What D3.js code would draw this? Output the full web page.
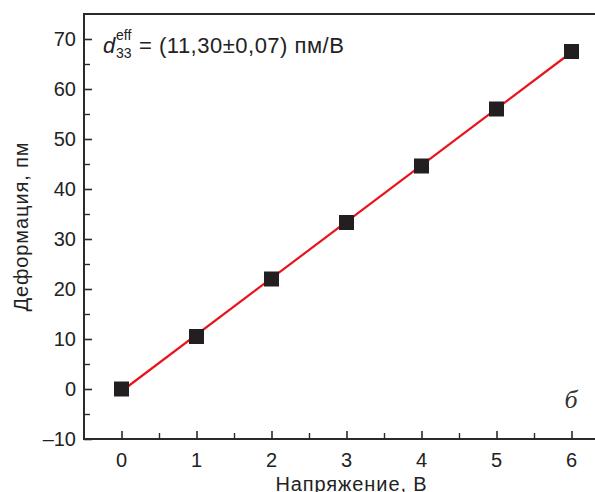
<!DOCTYPE html>
<html>
<head>
<meta charset="utf-8">
<script src="https://cdn.jsdelivr.net/npm/d3@7"></script>
<style>
  html, body { margin: 0; padding: 0; background: #fff; overflow: hidden; }
  svg { display: block; font-family: "Liberation Sans", Arial, sans-serif; }
</style>
</head>
<body>
<div id="chart"></div>
<script>
// Data
const voltage = [0, 1, 2, 3, 4, 5, 6];
const deformation = [0, 10.5, 22.0, 33.3, 44.6, 56.0, 67.5];
const fitSlope = 11.3;
const fitIntercept = -0.45;
const xTicks = [0, 1, 2, 3, 4, 5, 6];
const yTicks = [-10, 0, 10, 20, 30, 40, 50, 60, 70];

const W = 595, H = 492;
const margin = { top: 14, left: 84, bottom: 53 };
const plotRight = 609; // frame runs past the cropped right edge

const svg = d3.select('#chart').append('svg')
    .attr('width', W)
    .attr('height', H);

const x = d3.scaleLinear().domain([-0.5, 6.5]).range([margin.left, plotRight]);
const y = d3.scaleLinear().domain([-10, 75]).range([H - margin.bottom, margin.top]);

const axisColor = '#2a2a2a';
const textColor = '#222';

// y axis, ticks pointing inward
svg.append('g')
    .attr('transform', `translate(${margin.left},0)`)
    .call(d3.axisRight(y).tickValues(yTicks).tickSize(8).tickFormat(''))
    .call(g => g.select('.domain').remove())
    .selectAll('line').attr('stroke', axisColor).attr('stroke-width', 1.6);

svg.append('g')
    .attr('transform', `translate(${margin.left},0)`)
    .call(d3.axisRight(y).tickValues(d3.range(-5, 75, 10)).tickSize(6).tickFormat(''))
    .call(g => g.select('.domain').remove())
    .selectAll('line').attr('stroke', axisColor).attr('stroke-width', 1.4);

svg.append('g').selectAll('text')
    .data(yTicks)
    .join('text')
    .attr('x', margin.left - 8)
    .attr('y', d => y(d) + 7)
    .attr('text-anchor', 'end')
    .style('font-size', '20px')
    .style('fill', textColor)
    .text(d => d < 0 ? '\u2013' + Math.abs(d) : d);

// x axis, ticks pointing inward
svg.append('g')
    .attr('transform', `translate(0,${y(-10)})`)
    .call(d3.axisTop(x).tickValues(xTicks).tickSize(8).tickFormat(''))
    .call(g => g.select('.domain').remove())
    .selectAll('line').attr('stroke', axisColor).attr('stroke-width', 1.6);

svg.append('g')
    .attr('transform', `translate(0,${y(-10)})`)
    .call(d3.axisTop(x).tickValues(d3.range(0.5, 6.5, 1)).tickSize(6).tickFormat(''))
    .call(g => g.select('.domain').remove())
    .selectAll('line').attr('stroke', axisColor).attr('stroke-width', 1.4);

svg.append('g').selectAll('text')
    .data(xTicks)
    .join('text')
    .attr('x', d => x(d))
    .attr('y', y(-10) + 28)
    .attr('text-anchor', 'middle')
    .style('font-size', '20px')
    .style('fill', textColor)
    .text(d => d);

// frame: left, bottom, top
svg.append('path')
    .attr('d', `M${plotRight},${y(75)}H${margin.left}V${y(-10)}H${plotRight}`)
    .attr('fill', 'none')
    .attr('stroke', axisColor)
    .attr('stroke-width', 2);

// axis titles
svg.append('text')
    .attr('transform', `translate(28,${(y(75) + y(-10)) / 2}) rotate(-90)`)
    .attr('text-anchor', 'middle')
    .style('font-size', '20px')
    .style('letter-spacing', '0.9px')
    .style('fill', textColor)
    .text('Деформация, пм');

svg.append('text')
    .attr('x', x(3) + 5)
    .attr('y', 491)
    .attr('text-anchor', 'middle')
    .style('font-size', '20px')
    .style('letter-spacing', '0.9px')
    .style('fill', textColor)
    .text('Напряжение, В');

// linear fit
svg.append('line')
    .attr('x1', x(0)).attr('y1', y(fitIntercept))
    .attr('x2', x(6)).attr('y2', y(fitSlope * 6 + fitIntercept))
    .attr('stroke', '#e8141c')
    .attr('stroke-width', 2.2);

// points
const pts = voltage.map((v, i) => ({ v, d: deformation[i] }));
svg.append('g').selectAll('rect')
    .data(pts)
    .join('rect')
    .attr('x', p => x(p.v) - 7.5)
    .attr('y', p => y(p.d) - 7.5)
    .attr('width', 15)
    .attr('height', 15)
    .attr('fill', '#231f20');

// annotation
const ann = svg.append('text')
    .attr('x', 103)
    .attr('y', 53)
    .style('font-size', '22px')
    .style('fill', textColor);
ann.append('tspan').style('font-style', 'italic').text('d');
ann.append('tspan').attr('x', 116).attr('y', 58).style('font-size', '14px').text('33');
ann.append('tspan').attr('x', 116).attr('y', 40).style('font-size', '14px').text('eff');
ann.append('tspan').attr('x', 139).attr('y', 53)
    .style('letter-spacing', '0.5px')
    .text('= (11,30\u00b10,07) пм/В');

svg.append('text')
    .attr('x', 571)
    .attr('y', 408)
    .attr('text-anchor', 'middle')
    .style('font-family', '"Liberation Serif", "DejaVu Serif", serif')
    .style('font-style', 'italic')
    .style('font-size', '26px')
    .style('fill', '#333')
    .text('б');
</script>
</body>
</html>
